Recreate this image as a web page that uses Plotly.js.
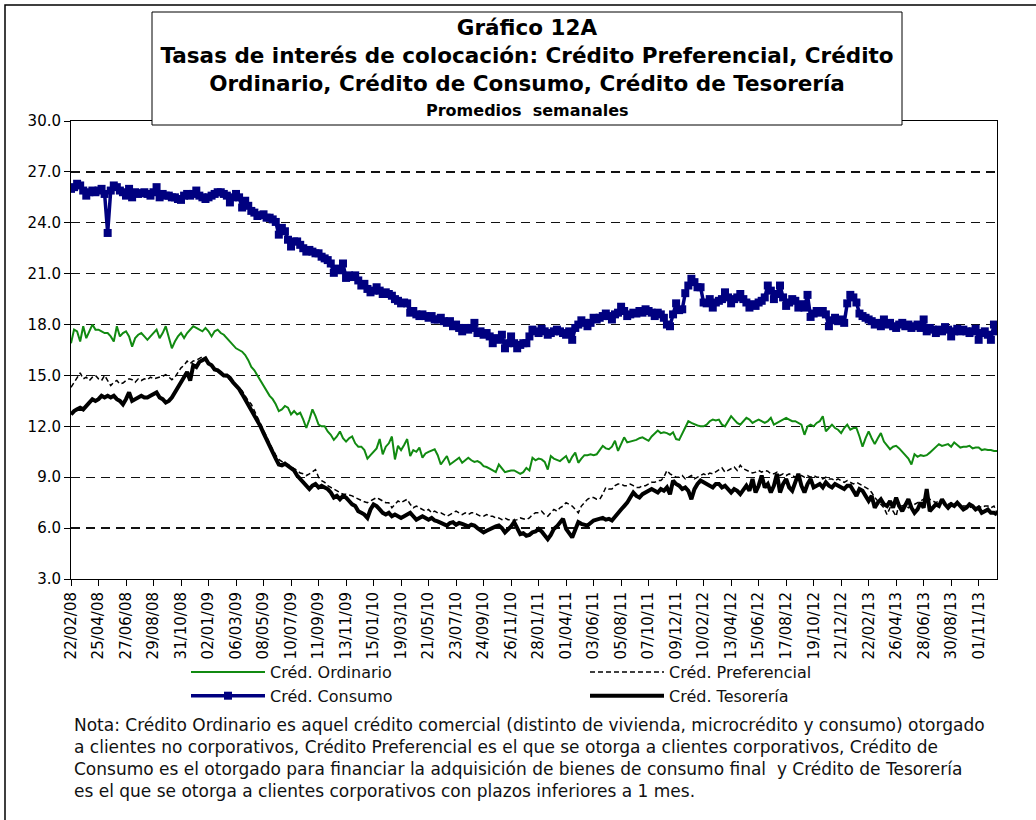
<!DOCTYPE html>
<html>
<head>
<meta charset="utf-8">
<script src="https://cdn.plot.ly/plotly-3.0.1.min.js"></script>
<style>html,body{margin:0;padding:0;background:#fff;}#chart{width:1036px;height:820px;}</style>
</head>
<body>
<div id="chart"></div>
<script>
// Weekly series, first week 22/02/08
const startDate = [2008, 2, 22];

const ordinario = [
16.9,17.7,17.6,17.0,17.9,17.2,17.6,18.0,17.7,17.7,
17.6,17.5,17.5,17.3,17.0,17.9,17.3,17.5,17.6,17.3,
16.7,17.2,17.4,17.5,17.3,17.1,17.3,17.5,17.7,17.2,
17.5,17.9,17.3,16.6,17.0,17.3,17.5,17.2,17.5,17.7,
17.9,17.8,17.7,17.6,17.8,17.6,17.3,17.6,17.7,17.5,
17.4,17.2,17.0,16.8,16.6,16.5,16.4,16.2,15.9,15.5,
15.3,15.0,14.7,14.4,14.1,13.8,13.6,13.3,12.9,13.0,
13.2,13.1,12.7,12.9,12.7,12.8,12.4,11.9,12.4,13.0,
12.6,12.1,12.0,12.0,11.7,11.5,11.2,11.4,11.7,11.3,
11.1,11.3,11.4,11.0,10.8,10.8,10.6,10.1,10.3,10.5,
10.7,11.25,10.35,10.8,11.0,11.4,10.05,10.85,10.6,10.9,
11.25,10.25,10.6,10.5,10.75,10.15,10.4,10.5,10.6,10.65,
10.3,9.75,10.0,10.25,9.75,9.9,10.0,10.15,9.85,10.0,
10.15,10.0,9.9,9.95,9.85,9.65,9.6,9.5,9.4,9.3,
9.75,9.5,9.3,9.35,9.4,9.4,9.3,9.2,9.3,9.55,
9.4,10.15,10.0,10.1,10.05,9.9,9.45,10.25,10.1,10.0,
9.95,10.1,10.25,9.85,10.2,10.45,9.85,10.1,10.3,10.3,
10.35,10.3,10.35,10.6,10.85,10.7,10.65,10.8,11.15,10.55,
11.0,11.35,11.05,11.1,11.15,11.2,11.3,11.35,11.25,11.15,
11.4,11.6,11.75,11.6,11.65,11.6,11.5,11.65,11.25,11.2,
11.6,12.0,12.3,12.2,12.1,12.05,12.0,12.0,12.1,12.3,
12.4,12.35,12.4,12.1,12.0,12.3,12.6,12.4,12.2,12.1,
12.3,12.5,12.4,12.2,12.3,12.4,12.3,12.2,12.3,12.5,
12.1,12.2,12.3,12.4,12.5,12.4,12.3,12.3,12.2,12.1,
11.5,12.0,12.1,12.0,12.2,12.3,12.6,11.7,11.9,12.1,
11.9,11.8,11.6,11.9,12.1,11.8,11.9,11.9,11.4,10.8,
11.3,11.7,11.3,10.95,11.3,11.6,11.1,10.9,10.65,10.8,
10.85,10.7,10.5,10.35,10.1,9.75,10.35,10.2,10.3,10.25,
10.3,10.45,10.6,10.8,10.95,10.85,10.9,10.95,10.8,11.05,
10.9,10.75,10.8,10.8,10.85,10.7,10.75,10.75,10.6,10.65,
10.6,10.6,10.55,10.55
];

const preferencial = [
14.3,14.6,14.9,15.15,14.8,14.9,14.7,14.9,15.0,14.8,
14.7,15.0,14.7,14.4,14.6,14.7,14.5,14.55,14.7,14.8,
14.75,14.6,14.8,14.7,14.8,14.75,14.9,14.8,14.85,14.9,
14.95,15.05,14.9,14.75,14.9,15.2,15.45,15.6,15.85,15.7,
15.85,15.9,16.0,16.1,15.95,15.8,15.6,15.4,15.25,15.1,
15.0,14.9,14.75,14.6,14.4,14.25,14.1,13.8,13.5,13.3,
12.9,12.6,12.2,11.8,11.4,11.0,10.65,10.3,10.05,9.9,
9.8,9.75,9.6,9.5,9.4,9.25,9.2,9.1,9.2,9.3,
9.45,9.0,8.8,8.7,8.5,8.4,8.3,8.2,8.1,8.0,
8.0,7.95,7.9,7.8,7.7,7.6,7.55,7.5,7.6,7.7,
7.8,7.7,7.6,7.5,7.5,7.2,7.4,7.6,7.5,7.6,
7.7,7.4,7.2,7.3,7.2,7.1,7.0,7.1,6.9,7.0,
6.9,6.9,6.8,6.7,6.8,6.9,7.0,6.9,6.8,6.9,
6.8,6.9,6.9,6.8,6.7,6.7,6.8,6.7,6.7,6.6,
6.6,6.5,6.6,6.5,6.5,6.45,6.5,6.6,6.55,6.5,
6.6,6.8,6.9,6.9,7.0,6.8,6.7,6.9,7.1,7.0,
7.2,7.3,7.5,7.4,7.3,7.1,6.9,7.3,7.5,7.7,
7.8,7.8,7.7,7.7,8.0,8.4,8.3,8.3,8.5,8.6,
8.6,8.5,8.5,8.6,8.5,8.4,8.4,8.5,8.5,8.6,
8.7,8.7,8.8,8.8,9.0,9.4,9.2,9.1,9.0,9.0,
9.1,8.9,9.0,9.1,8.9,9.0,9.1,9.2,9.1,9.25,
9.2,9.3,9.4,9.55,9.3,9.4,9.5,9.6,9.4,9.7,
9.5,9.4,9.3,9.25,9.3,9.4,9.3,9.4,9.35,9.2,
9.2,9.3,9.1,9.2,9.1,9.2,9.1,9.0,9.1,9.1,
9.0,9.1,9.0,9.1,9.0,9.0,8.9,9.0,8.9,8.9,
8.8,8.9,8.8,8.7,8.8,8.7,8.6,8.7,8.6,8.5,
8.4,8.3,8.1,7.8,7.6,7.4,7.2,6.8,7.2,7.0,
6.7,7.5,7.3,7.4,7.2,7.3,7.4,7.5,7.6,7.7,
7.9,7.7,7.6,7.5,7.6,7.6,7.5,7.4,7.5,7.4,
7.4,7.4,7.3,7.3,7.2,7.3,7.2,7.3,7.2,7.3,
7.3,7.2,7.3,6.9
];

const consumo = [
26.0,26.1,26.3,26.2,25.9,25.6,25.8,25.9,25.8,25.9,
26.0,25.7,23.4,25.9,26.2,26.1,25.9,25.8,25.6,26.0,
25.5,25.8,25.7,25.75,25.8,25.7,25.6,25.8,26.1,25.5,
25.7,25.6,25.6,25.5,25.5,25.4,25.35,25.6,25.7,25.6,
25.7,25.9,25.6,25.5,25.4,25.5,25.6,25.7,25.8,25.8,
25.7,25.6,25.2,25.5,25.7,25.5,24.9,25.3,25.0,24.7,
24.6,24.4,24.45,24.5,24.3,24.3,24.2,24.05,23.3,23.7,
23.5,23.0,22.6,22.9,22.9,22.7,22.5,22.3,22.4,22.3,
22.2,22.2,22.0,21.9,21.8,21.6,21.05,21.3,21.2,21.6,
20.75,20.9,20.8,20.9,20.6,20.3,20.4,20.1,19.9,20.0,
20.2,20.0,19.8,19.9,19.8,19.7,19.5,19.4,19.25,19.3,
19.25,18.7,18.8,18.6,18.5,18.6,18.5,18.4,18.5,18.3,
18.3,18.4,18.2,18.1,18.2,17.9,18.0,17.8,17.6,17.8,
17.7,17.8,18.1,17.5,17.6,17.4,17.5,17.3,16.9,17.2,
17.1,17.4,16.6,16.9,17.3,16.9,16.6,16.8,16.9,16.9,
17.3,17.7,17.6,17.5,17.75,17.6,17.4,17.5,17.6,17.7,
17.6,17.5,17.4,17.6,17.1,17.8,18.0,18.25,18.1,17.9,
18.1,18.4,18.3,18.4,18.5,18.65,18.5,18.3,18.6,18.7,
19.05,18.8,18.5,18.6,18.7,18.65,18.8,18.7,18.9,18.8,
18.7,18.5,18.7,18.6,18.4,18.0,17.9,18.6,19.25,18.85,
18.9,19.85,20.3,20.7,20.5,20.2,20.2,19.3,19.25,19.5,
19.0,19.3,19.4,19.5,19.9,19.6,19.25,19.5,19.6,19.8,
19.5,19.3,19.0,19.2,19.1,19.3,19.4,19.6,20.3,20.0,
19.5,19.8,20.3,19.6,19.1,19.3,19.5,19.4,19.0,19.2,
19.0,19.75,18.45,18.65,18.8,18.7,18.8,18.6,17.9,18.25,
18.4,18.2,18.3,18.1,19.25,19.75,19.6,19.3,18.65,18.5,
18.4,18.3,18.2,18.0,18.1,17.9,18.3,18.0,18.1,17.9,
17.8,18.0,18.1,17.9,18.0,17.8,17.9,18.0,17.8,18.3,
17.6,17.8,17.7,17.5,17.7,17.6,17.85,17.7,17.3,17.6,
17.75,17.6,17.7,17.6,17.5,17.6,17.75,17.1,17.5,17.6,
17.4,17.1,18.0,17.6
];

const tesoreria = [
12.7,12.9,13.0,13.1,13.0,13.2,13.4,13.6,13.5,13.6,
13.8,13.7,13.8,13.7,13.8,13.6,13.5,13.3,13.6,14.0,
13.5,13.6,13.7,13.8,13.7,13.7,13.8,13.9,14.0,13.7,
13.6,13.4,13.5,13.7,14.0,14.3,14.6,15.0,15.2,14.7,
15.6,15.5,15.8,15.9,16.0,15.7,15.6,15.35,15.3,15.15,
15.0,15.0,14.85,14.6,14.4,14.2,13.9,13.6,13.3,13.0,
12.7,12.3,12.0,11.6,11.2,10.8,10.45,10.1,9.75,9.7,
9.8,9.65,9.5,9.4,9.1,8.9,8.7,8.5,8.3,8.5,
8.6,8.4,8.5,8.4,8.3,8.1,7.8,7.9,7.7,7.9,
7.8,7.6,7.4,7.3,7.0,6.9,6.8,6.6,7.1,7.4,
7.3,7.1,6.9,6.8,6.9,6.7,6.8,6.7,6.6,6.7,
6.8,6.9,6.7,6.5,6.6,6.7,6.6,6.5,6.6,6.45,
6.4,6.3,6.2,6.15,6.3,6.35,6.2,6.3,6.25,6.2,
6.1,6.2,6.15,6.0,5.9,5.75,5.85,5.95,6.0,6.1,
6.15,6.0,5.75,5.9,6.1,6.35,6.0,5.65,5.7,5.55,
5.6,5.75,5.8,5.95,5.8,5.6,5.35,5.6,5.95,6.1,
6.3,6.55,5.95,5.7,5.45,5.9,6.35,6.25,6.2,6.15,
6.3,6.45,6.5,6.55,6.6,6.5,6.55,6.45,6.7,6.9,
7.1,7.3,7.5,7.8,8.1,7.9,7.8,8.0,8.1,8.2,
8.3,8.2,8.1,8.3,8.2,8.4,8.0,8.8,8.6,8.5,
8.3,8.4,8.2,7.7,8.3,8.6,8.8,8.7,8.6,8.5,
8.4,8.6,8.6,8.4,8.5,8.3,8.1,8.3,8.2,8.0,
8.3,8.5,8.2,8.9,8.1,8.5,9.1,8.4,8.6,8.1,
8.5,9.2,8.1,8.6,8.9,8.4,8.2,8.7,9.2,8.5,
8.1,8.6,8.9,8.4,8.5,8.6,8.4,8.7,8.5,8.4,
8.6,8.5,8.4,8.3,8.5,8.5,8.2,7.9,8.3,8.2,
7.9,7.6,7.9,7.2,7.5,7.7,7.4,7.3,7.6,7.2,
7.8,7.3,7.0,7.4,7.7,7.2,6.9,7.1,7.5,7.2,
8.3,7.0,7.2,7.4,7.3,7.7,7.4,7.2,7.4,7.3,
7.5,7.3,7.1,7.2,7.4,7.3,7.1,7.2,6.9,7.0,
7.1,6.9,6.9,6.8
];

const seriesNames = ["Créd. Ordinario", "Créd. Preferencial", "Créd. Consumo", "Créd. Tesorería"];
const yTicks = [3, 6, 9, 12, 15, 18, 21, 24, 27, 30];
const tickStep = 9;

const titleLines = [
  "Gráfico 12A",
  "Tasas de interés de colocación: Crédito Preferencial, Crédito",
  "Ordinario, Crédito de Consumo, Crédito de Tesorería"
];
const subtitleText = "Promedios  semanales";
const noteLines = [
  "Nota: Crédito Ordinario es aquel crédito comercial (distinto de vivienda, microcrédito y consumo) otorgado",
  "a clientes no corporativos, Crédito Preferencial es el que se otorga a clientes corporativos, Crédito de",
  "Consumo es el otorgado para financiar la adquisición de bienes de consumo final  y Crédito de Tesorería",
  "es el que se otorga a clientes corporativos con plazos inferiores a 1 mes."
];

// weekly category labels dd/mm/yy
function pad(n){ return (n < 10 ? "0" : "") + n; }
const t0 = Date.UTC(startDate[0], startDate[1] - 1, startDate[2]);
const categories = consumo.map(function(_, i){
  const d = new Date(t0 + i * 7 * 86400000);
  return pad(d.getUTCDate()) + "/" + pad(d.getUTCMonth() + 1) + "/" + String(d.getUTCFullYear()).slice(2);
});
const tickLabels = categories.filter(function(_, i){ return i % tickStep === 0; });

const FONT = '"DejaVu Sans", Arial, sans-serif';

// pixel helpers for paper coords (plot area 71..997 x, 121..579 y)
const L = 71, R = 39, T = 121, B = 241, W = 1036, H = 820;
const PW = W - L - R, PH = H - T - B;
function px(x){ return (x - L) / PW; }
function py(y){ return (H - B - y) / PH; }

const traces = [
  {x: categories, y: ordinario, name: seriesNames[0], type: "scatter", mode: "lines",
   line: {color: "#118a11", width: 2}},
  {x: categories, y: preferencial, name: seriesNames[1], type: "scatter", mode: "lines",
   line: {color: "#000000", width: 1.5, dash: "5px,3px"}},
  {x: categories, y: consumo, name: seriesNames[2], type: "scatter", mode: "lines+markers",
   line: {color: "#000080", width: 3.5}, marker: {symbol: "square", size: 8, color: "#000080"}},
  {x: categories, y: tesoreria, name: seriesNames[3], type: "scatter", mode: "lines",
   line: {color: "#000000", width: 4}}
];

const annotations = noteLines.map(function(t, k){
  return {text: t, xref: "paper", yref: "paper", x: px(72), y: py(725 + k * 22),
          xanchor: "left", yanchor: "middle", showarrow: false, align: "left",
          font: {family: FONT, size: 17, color: "#111"}};
});
annotations.push({text: "<b>" + subtitleText + "</b>", xref: "paper", yref: "paper",
  x: px(527), y: py(110), xanchor: "center", yanchor: "middle", showarrow: false,
  font: {family: FONT, size: 16, color: "#000"}});

const layout = {
  width: W, height: H,
  margin: {l: L, r: R, t: T, b: B, pad: 0},
  paper_bgcolor: "#ffffff", plot_bgcolor: "#ffffff",
  font: {family: FONT, color: "#000"},
  showlegend: true,
  title: {
    text: "<b>" + titleLines.join("<br>") + "</b>",
    font: {family: FONT, size: 21.5, color: "#000"},
    xref: "paper", x: px(527), xanchor: "center",
    yref: "container", y: 1 - 35 / H, yanchor: "top"
  },
  xaxis: {
    type: "category", range: [0, categories.length - 1],
    tickmode: "array", tickvals: tickLabels, ticktext: tickLabels,
    tickangle: -90, ticks: "outside", ticklen: 6, tickcolor: "#000",
    tickfont: {family: FONT, size: 15, color: "#000"},
    showline: true, linecolor: "#000", linewidth: 1, mirror: true,
    showgrid: false, zeroline: false, fixedrange: true
  },
  yaxis: {
    range: [3, 30], tickmode: "array", tickvals: yTicks, tickformat: ".1f",
    ticks: "outside", ticklen: 6, tickcolor: "#000",
    tickfont: {family: FONT, size: 15, color: "#000"},
    showline: true, linecolor: "#000", linewidth: 1, mirror: true,
    showgrid: true, gridcolor: "#111", gridwidth: 1.3, griddash: "9px,6px",
    zeroline: false, fixedrange: true
  },
  legend: {
    orientation: "h", x: px(186), xanchor: "left", y: py(655), yanchor: "top",
    entrywidth: 310, entrywidthmode: "pixels", itemwidth: 74,
    font: {family: FONT, size: 16, color: "#111"},
    bgcolor: "rgba(0,0,0,0)", borderwidth: 0, tracegroupgap: 0,
    traceorder: "normal"
  },
  shapes: [
    {type: "rect", xref: "paper", yref: "paper", x0: px(5), x1: px(1045), y0: py(830), y1: py(5),
     line: {color: "#000", width: 1.5}, fillcolor: "rgba(0,0,0,0)", layer: "below"},
    {type: "rect", xref: "paper", yref: "paper", x0: px(152), x1: px(902), y0: py(125), y1: py(12),
     line: {color: "#000", width: 1}, fillcolor: "#ffffff", layer: "above"}
  ],
  annotations: annotations
};

Plotly.newPlot("chart", traces, layout, {displayModeBar: false, staticPlot: true});
</script>
</body>
</html>
